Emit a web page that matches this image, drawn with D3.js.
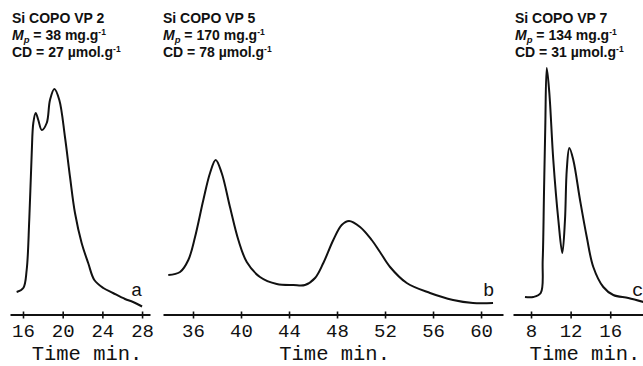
<html>
<head>
    <meta charset="utf-8">
    <title>Si COPO VP chromatograms</title>
    <style>
        body { margin: 0; background: #fff; }
    </style>
</head>
<body>
    <script src="https://cdn.jsdelivr.net/npm/d3@7/dist/d3.min.js"></script>
    <script>
        var width = 643;
        var height = 366;

        // panel a : Si COPO VP 2
        const timeA = [15.36, 16.03, 16.37, 16.63, 16.88, 17.04, 17.28, 17.54, 17.89, 18.39, 18.72, 19.16, 19.66,
            20.23, 20.74, 21.24, 21.91, 22.57, 23.19, 24.09, 25.07, 26.28, 27.09, 28.0];
        const signalA = [21, 25, 43, 93, 160, 190, 200, 193, 183, 190, 213, 224, 213,
            176, 136, 100, 70, 50, 33, 25, 20, 14, 11, 6.5];
        const ticksA = [16, 20, 24, 28];

        // panel b : Si COPO VP 5
        const timeB = [33.94, 34.92, 35.61, 36.17, 36.86, 37.42, 37.89, 38.39, 39.08, 39.78, 40.48, 41.58, 42.98,
            44.36, 45.33, 46.17, 46.86, 47.69, 48.39, 49.0, 49.92, 50.89, 51.58, 52.42, 53.81, 55.75, 57.67, 59.33, 61.0];
        const signalB = [38, 41, 53, 76, 113, 140, 153, 140, 106, 73, 51, 36, 29,
            28, 28, 35, 50, 73, 88, 92, 86, 73, 61, 46, 30, 20, 13, 10, 10];
        const ticksB = [36, 40, 44, 48, 52, 56, 60];

        // panel c : Si COPO VP 7
        const timeC = [7.39, 8.23, 8.98, 9.18, 9.31, 9.44, 9.59, 9.85, 10.25, 10.76, 11.16, 11.43, 11.61, 11.87,
            12.27, 12.95, 13.63, 14.29, 15.30, 16.31, 17.83, 19.35];
        const signalC = [16, 16, 20, 53, 120, 186, 245, 220, 153, 93, 60, 93, 143, 165,
            153, 113, 76, 46, 26, 18, 15, 11];
        const ticksC = [8, 12, 16];

        // header texts
        const names = ["Si COPO VP 2", "Si COPO VP 5", "Si COPO VP 7"];
        const mpValues = ["38", "170", "134"];
        const cdValues = ["27", "78", "31"];
        const letters = ["a", "b", "c"];

        var panels = [
            { time: timeA, signal: signalA, ticks: ticksA, domain: [14.69, 28.8], range: [10, 150], titleAt: 22.45, letterX: 131, hx: 12 },
            { time: timeB, signal: signalB, ticks: ticksB, domain: [33.5, 61.83], range: [163, 503], titleAt: 47.8, letterX: 483, hx: 163 },
            { time: timeC, signal: signalC, ticks: ticksC, domain: [6.18, 19.31], range: [513, 643], titleAt: 13.45, letterX: 632, hx: 515 }
        ];

        var svg = d3.select("body").append("svg")
            .attr("width", width)
            .attr("height", height);

        var axisY = 314.5;
        var y = d3.scaleLinear().domain([0, 250]).range([313, 63]);

        panels.forEach(function (p, i) {
            var x = d3.scaleLinear().domain(p.domain).range(p.range);
            var g = svg.append("g");

            // chromatogram trace
            var line = d3.line()
                .x(function (d, j) { return x(p.time[j]); })
                .y(function (d) { return y(d); })
                .curve(d3.curveCatmullRom.alpha(0.5));
            g.append("path")
                .datum(p.signal)
                .attr("d", line)
                .attr("fill", "none")
                .attr("stroke", "#111")
                .attr("stroke-width", 2)
                .attr("stroke-linejoin", "round");

            // time axis, ticks cross the line
            var ax = g.append("g")
                .attr("transform", "translate(0," + axisY + ")")
                .call(d3.axisBottom(x).tickValues(p.ticks).tickSize(4).tickSizeOuter(0));
            ax.select(".domain").attr("stroke", "#111").attr("stroke-width", 2);
            ax.selectAll(".tick line").attr("y1", -3).attr("y2", 4)
                .attr("stroke", "#111").attr("stroke-width", 1.6);
            ax.selectAll(".tick text")
                .attr("y", 22.5).attr("dy", 0)
                .attr("fill", "#111")
                .attr("font-family", "'Liberation Mono', 'DejaVu Sans Mono', monospace")
                .attr("font-size", 19);

            g.append("text")
                .attr("x", x(p.titleAt))
                .attr("y", 360)
                .attr("text-anchor", "middle")
                .attr("font-family", "'Liberation Mono', monospace")
                .attr("font-size", 20.5)
                .attr("fill", "#111")
                .text("Time min.");

            g.append("text")
                .attr("x", p.letterX)
                .attr("y", 296)
                .attr("font-family", "'Liberation Mono', monospace")
                .attr("font-size", 19)
                .attr("fill", "#111")
                .text(letters[i]);

            // header
            var h = g.append("g")
                .attr("font-family", "'Liberation Sans', Arial, sans-serif")
                .attr("font-weight", "bold")
                .attr("font-size", 14)
                .attr("fill", "#111");
            h.append("text").attr("x", p.hx).attr("y", 23).text(names[i]);

            var t2 = h.append("text").attr("x", p.hx).attr("y", 40);
            t2.append("tspan").attr("font-style", "italic").text("M");
            t2.append("tspan").attr("font-style", "italic").attr("font-size", 9.5).attr("dy", 3).text("p");
            t2.append("tspan").attr("dy", -3).text(" = " + mpValues[i] + " mg.g");
            t2.append("tspan").attr("font-size", 8.5).attr("dy", -5).text("-1");

            var t3 = h.append("text").attr("x", p.hx).attr("y", 57);
            t3.append("tspan").text("CD = " + cdValues[i] + " \u00b5mol.g");
            t3.append("tspan").attr("font-size", 8.5).attr("dy", -5).text("-1");
        });
    </script>
</body>
</html>
